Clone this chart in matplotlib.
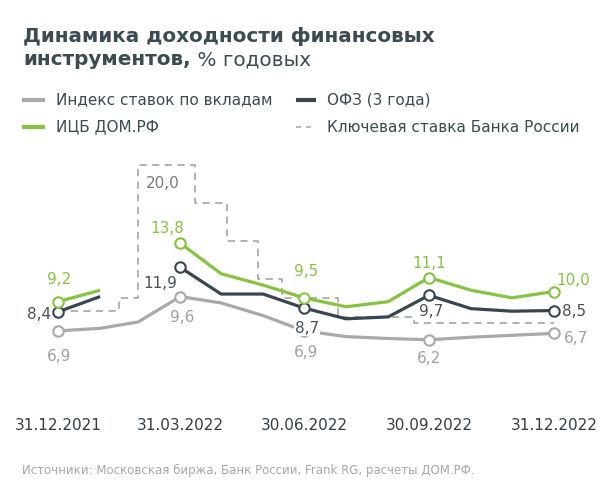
import matplotlib
matplotlib.use("Agg")
import matplotlib.pyplot as plt
import matplotlib.dates as mdates
from matplotlib.lines import Line2D
import numpy as np
import pandas as pd

# ---------------- data ----------------
months = ["2021-12-31", "2022-01-31", "2022-02-28", "2022-03-31", "2022-04-30",
          "2022-05-31", "2022-06-30", "2022-07-31", "2022-08-31", "2022-09-30",
          "2022-10-31", "2022-11-30", "2022-12-31"]
deposit_index = [6.9, 7.1, 7.6, 9.6, 9.1, 8.1, 6.9, 6.45, 6.3, 6.2, 6.4, 6.55, 6.7]
ofz_3y = [8.4, 9.6, np.nan, 11.9, 9.8, 9.8, 8.7, 7.85, 8.0, 9.7, 8.65, 8.45, 8.5]
icb_domrf = [9.2, 10.1, np.nan, 13.8, 11.4, 10.5, 9.5, 8.8, 9.2, 11.1, 10.1, 9.5, 10.0]

key_rate_dates = ["2021-12-31", "2022-02-14", "2022-02-28", "2022-04-11", "2022-05-04",
                  "2022-05-27", "2022-06-14", "2022-07-25", "2022-09-19", "2022-12-31"]
key_rate = [8.5, 9.5, 20.0, 17.0, 14.0, 11.0, 9.5, 8.0, 7.5, 7.5]

tick_dates = ["2021-12-31", "2022-03-31", "2022-06-30", "2022-09-30", "2022-12-31"]
tick_labels = ["31.12.2021", "31.03.2022", "30.06.2022", "30.09.2022", "31.12.2022"]

series_names = ["Индекс ставок по вкладам", "ОФЗ (3 года)", "ИЦБ ДОМ.РФ",
                "Ключевая ставка Банка России"]

# ---------------- style ----------------
C_GRAY = "#a9a9a9"
C_DARK = "#37464f"
C_GREEN = "#86c440"
C_KEY = "#ababab"
C_TEXT = "#3c4a52"
C_LBL_GRAY = "#a0a0a0"
C_LBL_DARK = "#4a5258"

plt.rcParams["font.family"] = ["DejaVu Sans"]

W, H = 600, 503
fig = plt.figure(figsize=(6.0, 5.03), dpi=100)

x = pd.to_datetime(months)
xk = pd.to_datetime(key_rate_dates)
xt = pd.to_datetime(tick_dates)

# axes placement (pixels)
ax_left_px, ax_right_px = 20, 590
ax_bottom_px, ax_top_px = 367.7, 151.8
ax = fig.add_axes([ax_left_px / W, 1 - ax_bottom_px / H,
                   (ax_right_px - ax_left_px) / W, (ax_bottom_px - ax_top_px) / H])

d0 = mdates.date2num(pd.Timestamp("2021-12-31"))
d1 = mdates.date2num(pd.Timestamp("2022-12-31"))
ppd = (554 - 58) / (d1 - d0)
ax.set_xlim(d0 - (58 - ax_left_px) / ppd, d1 + (ax_right_px - 554) / ppd)
ax.set_ylim(4, 21)

lw = 2.3
ax.step(xk, key_rate, where="post", color=C_KEY, lw=1.3, ls=(0, (4, 3)), zorder=1)
ax.plot(x, deposit_index, color=C_GRAY, lw=lw, zorder=2, solid_capstyle="butt")
ax.plot(x, ofz_3y, color=C_DARK, lw=lw, zorder=3, solid_capstyle="butt")
ax.plot(x, icb_domrf, color=C_GREEN, lw=lw, zorder=4, solid_capstyle="butt")

mk_idx = [0, 3, 6, 9, 12]
for vals, col, z in [(deposit_index, C_GRAY, 2.5), (ofz_3y, C_DARK, 3.5), (icb_domrf, C_GREEN, 4.5)]:
    ax.plot(x[mk_idx], np.array(vals)[mk_idx], ls="none", marker="o", ms=7.5,
            mfc="white", mec=col, mew=1.5, zorder=z)

def lab(i, vals, col, dx, dy, ha="center", bg=False):
    v = vals[i]
    kw = {}
    if bg:
        kw["bbox"] = dict(boxstyle="square,pad=0.05", fc="white", ec="none")
    ax.annotate(f"{v:.1f}".replace(".", ","), (x[i], v), xytext=(dx, dy),
                textcoords="offset pixels", ha=ha, va="center", color=col,
                fontsize=11, zorder=10, **kw)

# green labels
lab(0, icb_domrf, C_GREEN, 1, 22)
lab(3, icb_domrf, C_GREEN, -13, 15)
lab(6, icb_domrf, C_GREEN, 2, 26)
lab(9, icb_domrf, C_GREEN, 0, 14)
lab(12, icb_domrf, C_GREEN, 19, 11)
# dark labels
lab(0, ofz_3y, C_LBL_DARK, -7, -3, ha="right")
lab(3, ofz_3y, C_LBL_DARK, -20, -16)
lab(6, ofz_3y, C_LBL_DARK, 3, -20, bg=True)
lab(9, ofz_3y, C_LBL_DARK, 2, -16)
lab(12, ofz_3y, C_LBL_DARK, 8, -1, ha="left")
# gray labels
lab(0, deposit_index, C_LBL_GRAY, 1, -26)
lab(3, deposit_index, C_LBL_GRAY, 2, -21)
lab(6, deposit_index, C_LBL_GRAY, 2, -22, bg=True)
lab(9, deposit_index, C_LBL_GRAY, 0, -19)
lab(12, deposit_index, C_LBL_GRAY, 22, -5)
# key rate peak label
ax.annotate(f"{key_rate[2]:.1f}".replace(".", ","), (xk[2], key_rate[2]), xytext=(25, -19),
            textcoords="offset pixels", ha="center", va="center", color="#7a7a7a",
            fontsize=11, zorder=10)

ax.set_xticks(xt)
ax.set_xticklabels(tick_labels, fontsize=11, color="#333d44")
ax.tick_params(axis="x", length=0, pad=36)
ax.set_yticks([])
for s in ax.spines.values():
    s.set_visible(False)
ax.patch.set_alpha(0)

# ---------------- title ----------------
def fx(px):
    return px / W

def fy(py):
    return 1 - py / H

TS = 14.4
fig.text(fx(23), fy(42), "Динамика доходности финансовых", fontsize=TS,
         fontweight="bold", color=C_TEXT, va="baseline", ha="left")
t2 = fig.text(fx(23), fy(65), "инструментов,", fontsize=TS, fontweight="bold",
              color=C_TEXT, va="baseline", ha="left")
fig.canvas.draw()
bb = t2.get_window_extent()
fig.text(bb.x1 / W, fy(65), " % годовых", fontsize=TS, color=C_TEXT,
         va="baseline", ha="left")

# ---------------- legend ----------------
leg_items = [
    (22, 45, 100, C_GRAY, "-", 3.0, 56, series_names[0]),
    (296, 316, 100, C_DARK, "-", 3.0, 327, series_names[1]),
    (22, 45, 127, C_GREEN, "-", 3.0, 56, series_names[2]),
    (296, 316, 127, C_KEY, (0, (3, 3)), 1.2, 327, series_names[3]),
]
for x0, x1, yy, col, ls, w_, tx, name in leg_items:
    fig.add_artist(Line2D([fx(x0), fx(x1)], [fy(yy), fy(yy)], color=col, ls=ls, lw=w_,
                          transform=fig.transFigure, solid_capstyle="butt"))
    fig.text(fx(tx), fy(yy), name, fontsize=11, color=C_TEXT, va="center", ha="left")

# ---------------- source ----------------
fig.text(fx(22), fy(470), "Источники: Московская биржа, Банк России, Frank RG, расчеты ДОМ.РФ.",
         fontsize=8.5, color="#a8a8a8", va="center", ha="left")

fig.savefig("out.png", dpi=100, facecolor="white")
